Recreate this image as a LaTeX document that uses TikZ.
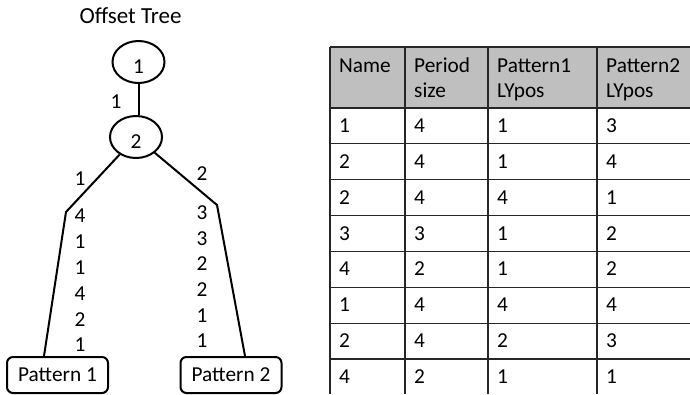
\documentclass[tikz,border=0pt]{standalone}
\usepackage{fontspec}
\setmainfont{Carlito}
\usetikzlibrary{shapes.geometric}

\begin{document}
\begin{tikzpicture}[x=1pt,y=-1pt,
  txt/.style={font=\fontsize{21.3}{25}\selectfont},
  treenode/.style={txt, ellipse, draw, line width=2pt, minimum width=52pt,
    minimum height=42pt, inner sep=0pt, text height=22pt, text depth=0pt},
  patbox/.style={txt, draw, rounded corners=6pt, line width=2pt,
    minimum width=101pt, minimum height=36pt, inner sep=0pt},
  lbl/.style={txt, inner sep=0pt},
  link/.style={line width=2pt},
  tline/.style={line width=1.2pt, black!85},
  cell/.style={txt, inner sep=0pt, anchor=base west}]

\useasboundingbox (0,0) rectangle (690,394);

% ---------- offset tree ----------
\node[font=\fontsize{23}{27}\selectfont, inner sep=0pt] (title) at (130.5,16) {Offset Tree};

\node[treenode] (n1) at (138.5,62) {1};
\node[treenode] (n2) at (136,137) {2};
\node[patbox] (p1) at (57.5,375) {Pattern 1};
\node[patbox] (p2) at (231,375) {Pattern 2};

\coordinate (lb) at (66,212);
\coordinate (rb) at (217,205);

\draw[link] (n1.south) -- (n1.south |- n2.north);
\draw[link] (n2) -- (lb) -- ([xshift=-13.5pt]p1.north);
\draw[link] (n2) -- (rb) -- ([xshift=14pt]p2.north);

\node[lbl] (e12) at (116,102) {1};
\node[lbl] (eL) at (80,179) {1};
\node[lbl] (eR) at (202,174) {2};

\foreach \v [count=\i from 0] in {4,1,1,4,2,1}
  \node[lbl] (l\i) at (80,216+25.8*\i) {\v};
\foreach \v [count=\i from 0] in {3,3,2,2,1,1}
  \node[lbl] (r\i) at (202,212.5+25.7*\i) {\v};

% ---------- table ----------
\fill[black!25] (330,47) rectangle (690,108);
\draw[tline] (330,47) -- (690,47);
\foreach \k in {0,...,7}
  \draw[tline] (330,108+35.86*\k) -- (690,108+35.86*\k);
\foreach \x in {330,405,488,597}
  \draw[tline] (\x,47) -- (\x,394);

% header
\node[cell] (h1a) at (339,72.5) {Name};
\node[cell] (h2a) at (414,72.5) {Period};
\node[cell] (h2b) at (414,97.5) {size};
\node[cell] (h3a) at (497,72.5) {Pattern1};
\node[cell] (h3b) at (497,97.5) {LYpos};
\node[cell] (h4a) at (606,72.5) {Pattern2};
\node[cell] (h4b) at (606,97.5) {LYpos};

% body rows
\foreach \a/\b/\c/\d [count=\r from 0] in
  {1/4/1/3, 2/4/1/4, 2/4/4/1, 3/3/1/2, 4/2/1/2, 1/4/4/4, 2/4/2/3, 4/2/1/1}
{
  \node[cell] (c\r a) at (339,132.5+35.86*\r) {\a};
  \node[cell] (c\r b) at (414,132.5+35.86*\r) {\b};
  \node[cell] (c\r c) at (497,132.5+35.86*\r) {\c};
  \node[cell] (c\r d) at (606,132.5+35.86*\r) {\d};
}
\end{tikzpicture}
\end{document}
